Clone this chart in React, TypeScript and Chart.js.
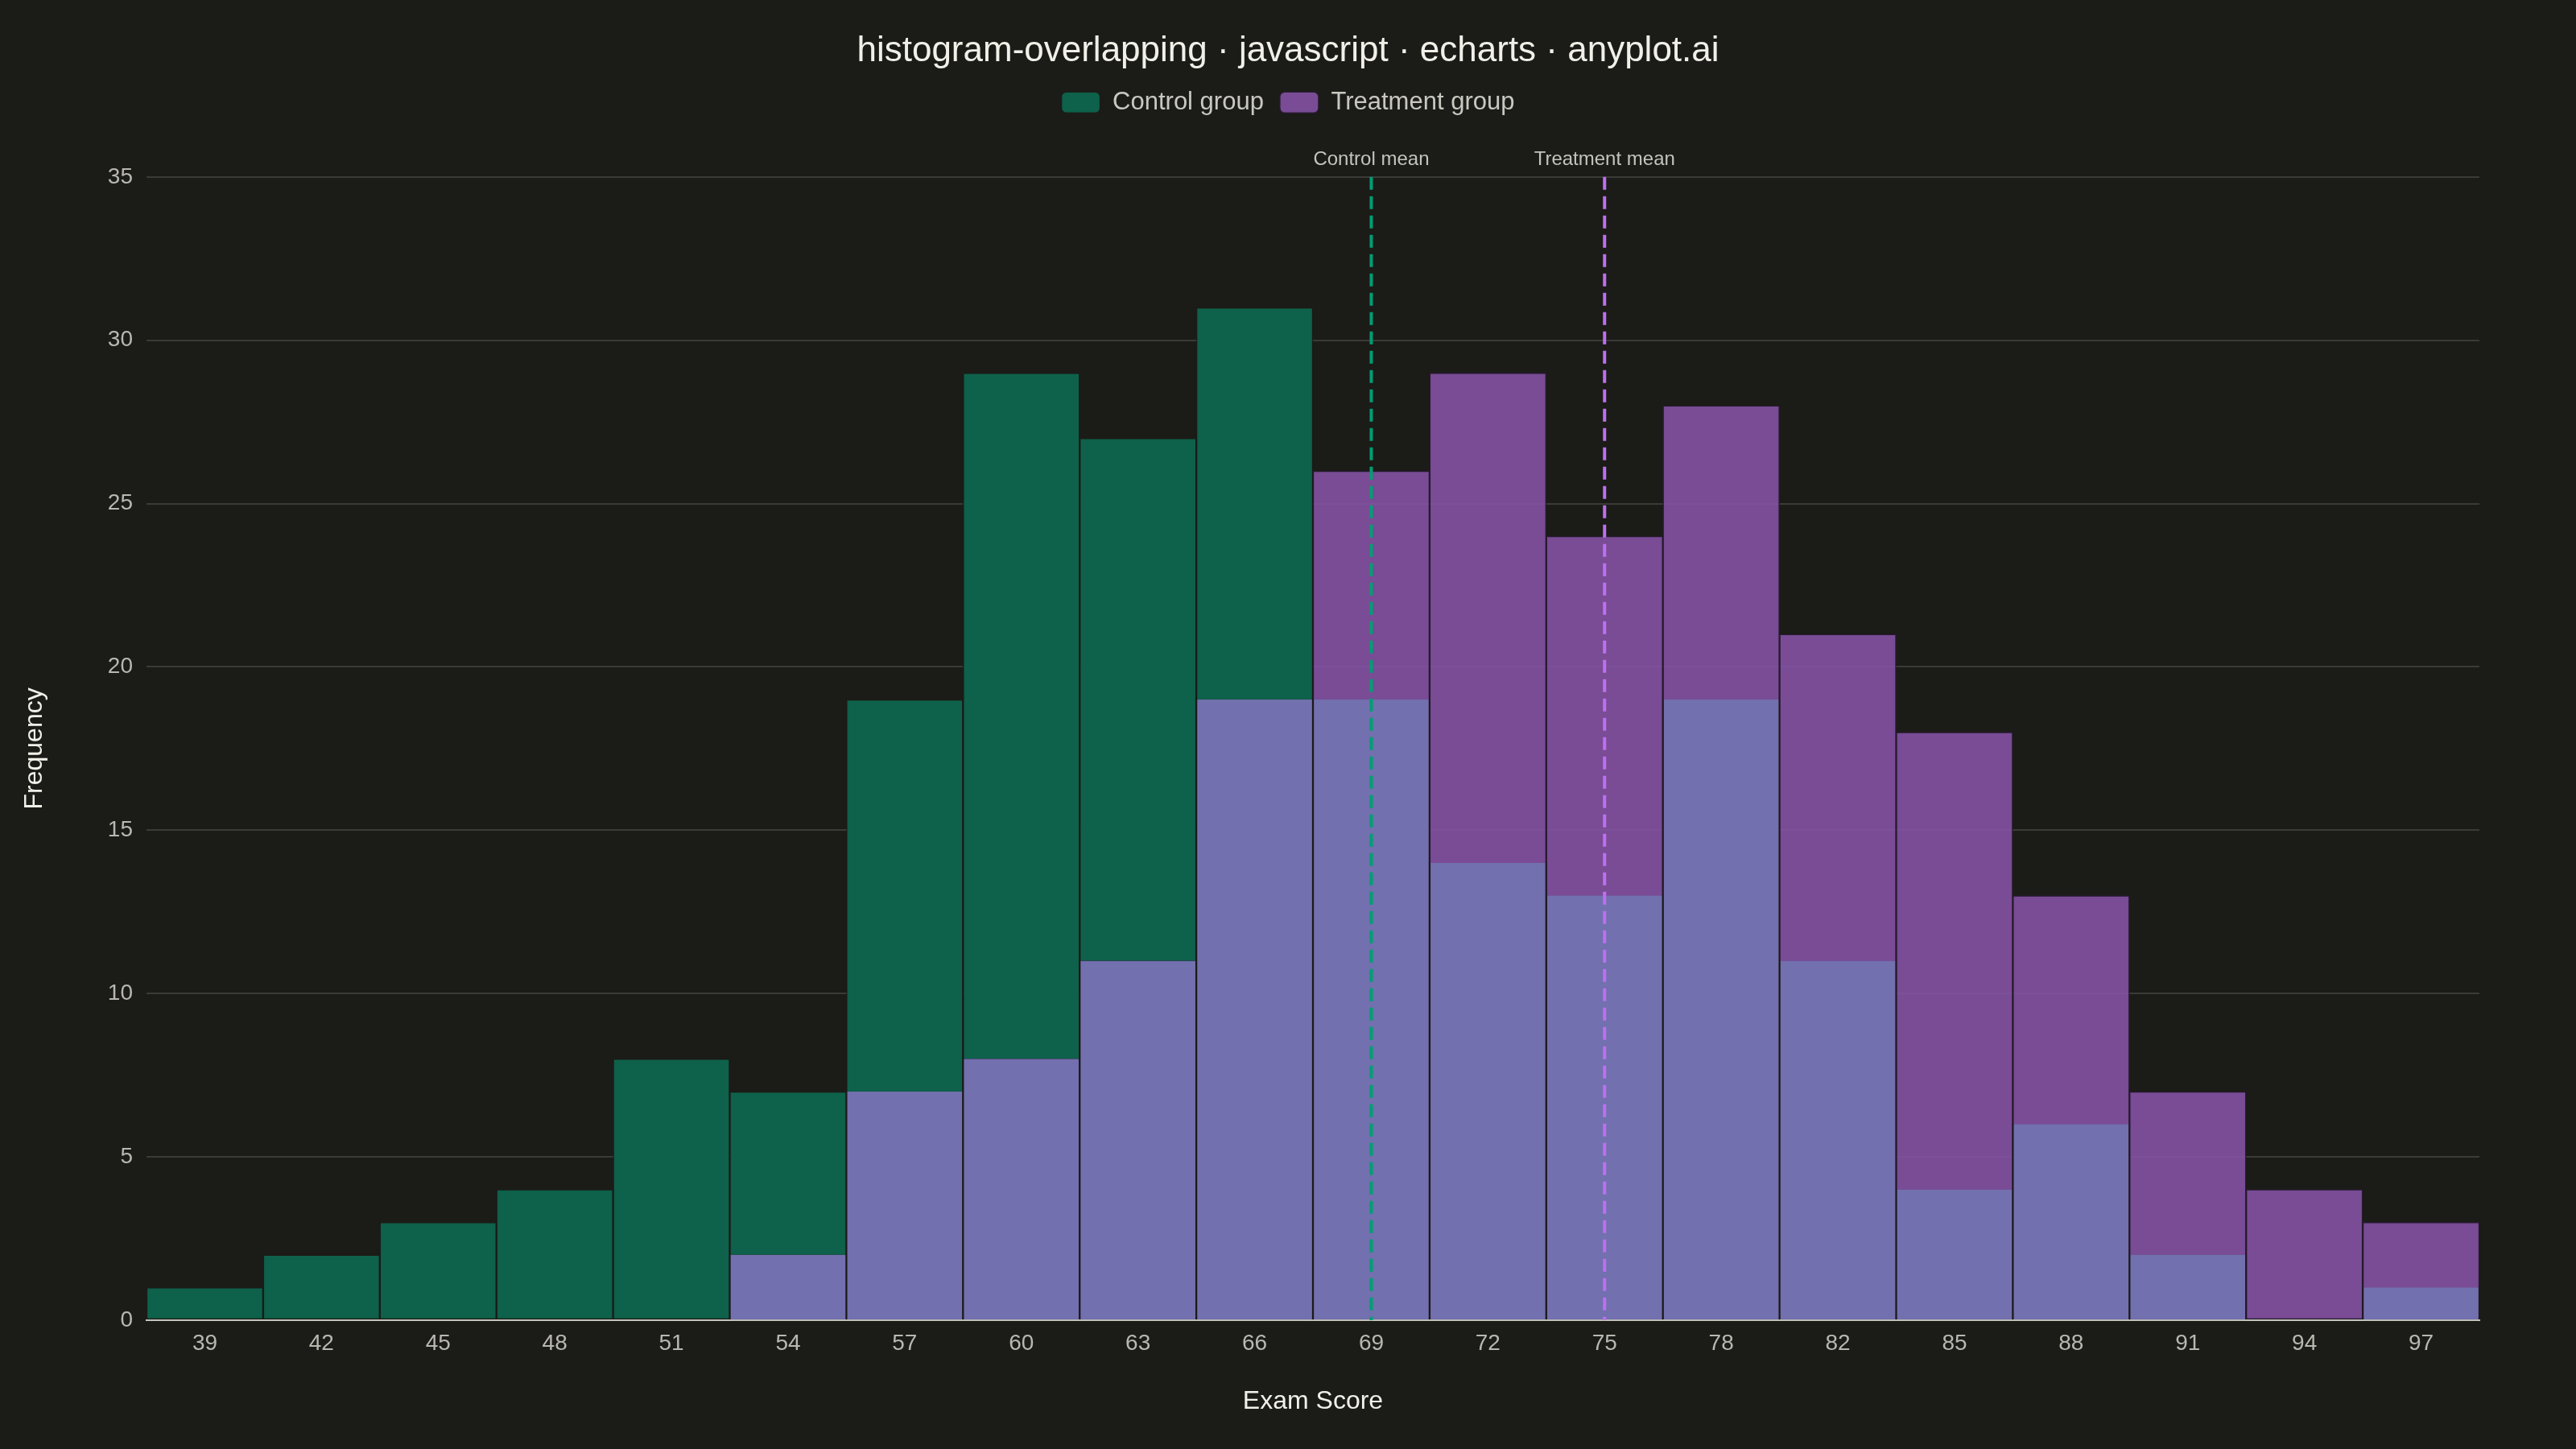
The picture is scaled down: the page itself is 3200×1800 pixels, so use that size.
import { useEffect, useRef } from 'react'
import { Chart, registerables } from 'chart.js'

Chart.register(...registerables)

// Exam score bins (category labels on the x axis)
const scoreBins = ['39', '42', '45', '48', '51', '54', '57', '60', '63', '66', '69', '72', '75', '78', '82', '85', '88', '91', '94', '97']

// Frequencies per bin
const controlCounts = [1, 2, 3, 4, 8, 7, 19, 29, 27, 31, 19, 14, 13, 19, 11, 4, 6, 2, 0, 1]
const treatmentCounts = [0, 0, 0, 0, 0, 2, 7, 8, 11, 19, 26, 29, 24, 28, 21, 18, 13, 7, 4, 3]

// Where both groups overlap
const overlapCounts = controlCounts.map((c, i) => Math.min(c, treatmentCounts[i]))

const yTicks = [0, 5, 10, 15, 20, 25, 30, 35]

const meanLabels = ['Control mean', 'Treatment mean']
const meanBins = ['69', '75']
const meanColors = ['#009e73', '#bf6ff0']

const FONT = '"Liberation Sans Narrow", "Liberation Sans", sans-serif'
const BG = '#1b1b18'

const meanLinePlugin = {
  id: 'meanLines',
  afterDatasetsDraw(chart: any) {
    const { ctx, chartArea, scales } = chart
    meanBins.forEach((bin, i) => {
      const x = scales.x.getPixelForValue(scoreBins.indexOf(bin))
      ctx.save()
      ctx.strokeStyle = meanColors[i]
      ctx.lineWidth = 4
      ctx.setLineDash([16, 8])
      ctx.beginPath()
      ctx.moveTo(x, chartArea.top)
      ctx.lineTo(x, chartArea.bottom)
      ctx.stroke()
      ctx.setLineDash([])
      ctx.fillStyle = '#c4c4bc'
      ctx.font = `24px ${FONT}`
      ctx.textAlign = 'center'
      ctx.textBaseline = 'alphabetic'
      ctx.fillText(meanLabels[i], x, chartArea.top - 15)
      ctx.restore()
    })
  }
}

// push the plot area down below the legend
const legendSpacePlugin = {
  id: 'legendSpace',
  beforeInit(chart: any) {
    const fit = chart.legend.fit
    chart.legend.fit = function () {
      fit.bind(chart.legend)()
      this.height += 67
    }
  }
}

export default function App() {
  const canvasRef = useRef<HTMLCanvasElement>(null)

  useEffect(() => {
    document.body.style.margin = '0'
    if (!canvasRef.current) return
    const chart = new Chart(canvasRef.current, {
      type: 'bar',
      data: {
        labels: scoreBins,
        datasets: [
          {
            label: 'Control group',
            data: controlCounts,
            backgroundColor: '#0e614a',
            borderColor: 'rgba(27, 27, 24, 0.85)',
            borderWidth: 1.5,
            borderSkipped: false,
            order: 2
          },
          {
            label: 'Treatment group',
            data: treatmentCounts,
            backgroundColor: 'rgba(137, 85, 172, 0.85)',
            borderColor: 'rgba(40, 28, 48, 0.9)',
            borderWidth: 1.5,
            borderSkipped: false,
            order: 1
          },
          {
            label: 'overlap',
            data: overlapCounts,
            backgroundColor: '#7270ae',
            borderColor: 'rgba(27, 27, 24, 0.85)',
            borderWidth: { left: 1.5, right: 1.5, top: 0, bottom: 0 },
            borderSkipped: false,
            order: 0
          }
        ]
      },
      options: {
        animation: false,
        responsive: false,
        devicePixelRatio: 1,
        layout: { padding: { top: 13, right: 0, bottom: 0, left: 0 } },
        datasets: {
          bar: {
            grouped: false,
            categoryPercentage: 1,
            barPercentage: 1
          }
        },
        scales: {
          x: {
            grid: { display: false, drawTicks: false },
            border: { display: true, color: '#c8c8c0', width: 2 },
            ticks: { color: '#b8b8b0', font: { family: FONT, size: 28 }, padding: 12 },
            title: {
              display: true,
              text: 'Exam Score',
              color: '#f0f0e8',
              font: { family: FONT, size: 32 },
              padding: { top: 0, bottom: 40 }
            },
            afterFit(scale: any) {
              scale.height = 160
            }
          },
          y: {
            min: 0,
            max: 35,
            afterBuildTicks(scale: any) {
              scale.ticks = yTicks.map(v => ({ value: v }))
            },
            grid: { color: '#3a3a36', lineWidth: 2, drawTicks: false },
            border: { display: false },
            ticks: { color: '#b8b8b0', font: { family: FONT, size: 28 }, padding: 17 },
            title: {
              display: true,
              text: 'Frequency',
              color: '#f0f0e8',
              font: { family: FONT, size: 32 },
              padding: { top: 24, bottom: 0 }
            },
            afterFit(scale: any) {
              scale.width = 182
            }
          },
          // empty right-hand axis that only reserves the right margin
          yRight: {
            position: 'right',
            display: true,
            grid: { display: false, drawTicks: false },
            border: { display: false },
            ticks: { display: false },
            afterFit(scale: any) {
              scale.width = 120
            }
          }
        },
        plugins: {
          title: {
            display: true,
            text: 'histogram-overlapping · javascript · echarts · anyplot.ai',
            color: '#f0f0e8',
            font: { family: FONT, size: 44, weight: 'normal' },
            padding: { top: 24, bottom: 2 }
          },
          legend: {
            position: 'top',
            labels: {
              color: '#c8c8c0',
              font: { family: FONT, size: 31 },
              boxWidth: 48,
              boxHeight: 26,
              useBorderRadius: true,
              borderRadius: 6,
              padding: 20,
              filter: (item: any) => item.datasetIndex !== 2,
              sort: (a: any, b: any) => a.datasetIndex - b.datasetIndex
            }
          },
          tooltip: { enabled: false }
        }
      },
      plugins: [legendSpacePlugin, meanLinePlugin]
    })
    return () => chart.destroy()
  }, [])

  return (
    <div style={{ width: 3200, height: 1800, background: BG }}>
      <canvas ref={canvasRef} width={3200} height={1800}></canvas>
    </div>
  )
}
